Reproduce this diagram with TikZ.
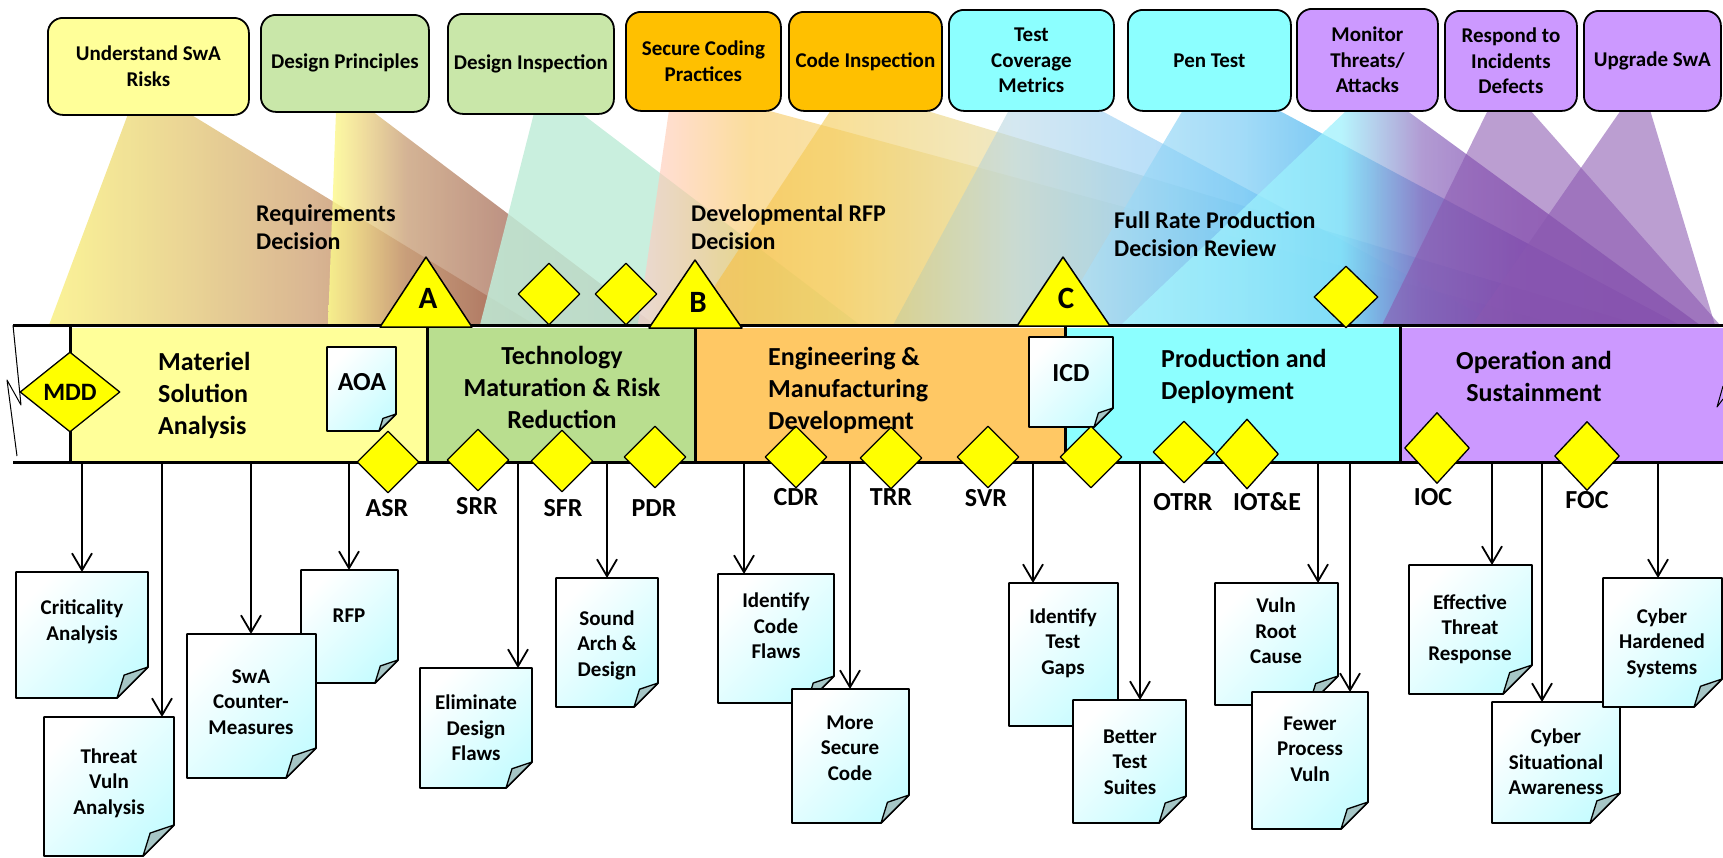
\documentclass[tikz,border=0pt]{standalone}
\usepackage{fontspec}
\setmainfont{Carlito}
\usetikzlibrary{arrows.meta,shapes.geometric}

% phase and box colours
\definecolor{msaY}{HTML}{FFFF99}
\definecolor{tmrrG}{HTML}{B9DE8F}
\definecolor{emdO}{HTML}{FFC864}
\definecolor{pdC}{HTML}{8CFFFF}
\definecolor{osP}{HTML}{CC99FF}
\definecolor{boxG}{HTML}{C9E7A9}
\definecolor{boxO}{HTML}{FFC000}
\definecolor{msY}{HTML}{FFFF00}
\definecolor{docC}{HTML}{C8FCFF}
\definecolor{flapC}{HTML}{A6C6C6}

% cone colours
\definecolor{uA}{HTML}{FAF28E}\definecolor{uB}{HTML}{EBD68C}\definecolor{uC}{HTML}{D6B08A}\definecolor{uD}{HTML}{BC8670}\definecolor{uE}{HTML}{9C4C3A}
\definecolor{pA}{HTML}{FFFF8C}\definecolor{pB}{HTML}{EED886}\definecolor{pC}{HTML}{C9A07A}\definecolor{pD}{HTML}{A87060}\definecolor{pE}{HTML}{985040}
\definecolor{iA}{HTML}{C0ECD8}
\definecolor{sA}{HTML}{FFCCCC}\definecolor{sB}{HTML}{FFC8A0}\definecolor{sC}{HTML}{F8C860}\definecolor{sD}{HTML}{F5D070}\definecolor{sE}{HTML}{EEE0A0}
\definecolor{sF}{HTML}{D0E0D8}\definecolor{sG}{HTML}{A8D4F4}\definecolor{sH}{HTML}{9080C8}\definecolor{sI}{HTML}{7840A8}
\definecolor{cA}{HTML}{F8BC40}\definecolor{cB}{HTML}{F4CC58}\definecolor{cC}{HTML}{EAD890}\definecolor{cD}{HTML}{C8D8C8}
\definecolor{cE}{HTML}{98CCF0}\definecolor{cF}{HTML}{6090D8}\definecolor{cG}{HTML}{7848B0}\definecolor{cH}{HTML}{7030A0}
\definecolor{tA}{HTML}{C8CC98}\definecolor{tB}{HTML}{B8D8E8}\definecolor{tC}{HTML}{90CCF4}\definecolor{tD}{HTML}{50B0F0}
\definecolor{nA}{HTML}{B8E4F8}\definecolor{nB}{HTML}{70C8F4}\definecolor{nC}{HTML}{20A0E8}\definecolor{nD}{HTML}{4070C8}\definecolor{nE}{HTML}{6040B0}\definecolor{nF}{HTML}{7030A0}
\definecolor{mA}{HTML}{A8F8FF}\definecolor{mB}{HTML}{98F0FC}\definecolor{mC}{HTML}{9070C0}\definecolor{mD}{HTML}{7838A8}\definecolor{mE}{HTML}{7030A0}
\definecolor{rA}{HTML}{8A58B0}

\pgfdeclarehorizontalshading{shUnd}{100bp}{color(0bp)=(uA); color(25bp)=(uA); color(37bp)=(uB); color(52bp)=(uC); color(63bp)=(uD); color(75bp)=(uE); color(100bp)=(uE)}
\pgfdeclarehorizontalshading{shDP}{100bp}{color(0bp)=(pA); color(25bp)=(pA); color(30bp)=(pB); color(37bp)=(pC); color(55bp)=(pD); color(75bp)=(pE); color(100bp)=(pE)}
\pgfdeclarehorizontalshading{shSC}{100bp}{color(0bp)=(sA); color(25bp)=(sA); color(27.5bp)=(sB); color(31bp)=(sC); color(36bp)=(sD); color(43bp)=(sE); color(52bp)=(sF); color(61bp)=(sG); color(69bp)=(sH); color(75bp)=(sI); color(100bp)=(sI)}
\pgfdeclarehorizontalshading{shCI}{100bp}{color(0bp)=(cA); color(25bp)=(cA); color(32.5bp)=(cB); color(40bp)=(cC); color(48bp)=(cD); color(57bp)=(cE); color(65bp)=(cF); color(70bp)=(cG); color(75bp)=(cH); color(100bp)=(cH)}
\pgfdeclarehorizontalshading{shTC}{100bp}{color(0bp)=(tA); color(25bp)=(tA); color(35bp)=(tB); color(45bp)=(tC); color(75bp)=(tD); color(100bp)=(tD)}
\pgfdeclarehorizontalshading{shPT}{100bp}{color(0bp)=(nA); color(25bp)=(nA); color(40bp)=(nB); color(50bp)=(nC); color(56bp)=(nD); color(62bp)=(nE); color(75bp)=(nF); color(100bp)=(nF)}
\pgfdeclarehorizontalshading{shMon}{100bp}{color(0bp)=(mA); color(25bp)=(mA); color(44bp)=(mB); color(51bp)=(mC); color(60bp)=(mD); color(75bp)=(mE); color(100bp)=(mE)}

% a page with a folded lower right corner: name, x1, y1, x2, y2, fold size
\newcommand\docpage[6]{%
  \shadedraw[pageshade] (#2,#3) -- (#4,#3) -- (#4,#5-#6) -- (#4-#6,#5) -- (#2,#5) -- cycle;
  \filldraw[flap] (#4,#5-#6) -- (#4-0.77*#6,#5-0.74*#6) -- (#4-#6,#5) -- cycle;
  \node[pagebox, minimum width={(#4-#2)*1pt}, minimum height={(#5-#3)*1pt}] (#1) at ({(#2+#4)/2},{(#3+#5)/2}) {};
}

\begin{document}
\begin{tikzpicture}[x=1pt,y=-1pt,line join=round,
  topbox/.style={draw=black, line width=1.8pt, rounded corners=15pt, align=center, inner sep=0pt, anchor=north west, font=\bfseries\fontsize{21}{25.5}\selectfont},
  phasetxt/.style={inner sep=0pt, font=\bfseries\fontsize{26}{32}\selectfont},
  dectxt/.style={inner sep=0pt, anchor=west, align=left, font=\bfseries\fontsize{24}{28.5}\selectfont},
  mslabel/.style={inner sep=0pt, font=\bfseries\fontsize{26}{30}\selectfont},
  msdia/.style={diamond, draw=black, fill=msY, line width=1.3pt, inner sep=0pt, minimum width=62pt, minimum height=62pt},
  mstri/.style={fill=msY, draw=black, line width=1.5pt},
  doctxt/.style={inner sep=0pt, align=center, font=\bfseries\fontsize{21}{25.5}\selectfont},
  pagebox/.style={draw=none, inner sep=0pt, outer sep=0pt},
  pageshade/.style={top color=white, bottom color=docC, shading angle=45, draw=black, line width=1.8pt},
  flap/.style={fill=flapC, draw=black, line width=1.3pt},
  arr/.style={line width=1.8pt, -{Straight Barb[length=17pt,width=20pt,line width=1.8pt]}},
  sepline/.style={line width=3pt},
]
\useasboundingbox (0,0) rectangle (1723,857);

% ---- activity cones projected onto the timeline
\shade[shading=shUnd, fill opacity=0.92] (128,114) -- (190,114) -- (535,325) -- (49,325) -- cycle;
\shade[shading=shDP, fill opacity=0.8] (336,111) -- (372,111) -- (655,325) -- (328,325) -- cycle;
\fill[iA, fill opacity=0.85] (534,113) -- (581,113) -- (860,325) -- (480,325) -- cycle;
\shade[shading=shSC, fill opacity=0.62] (669,110) -- (766,110) -- (1560,325) -- (638,325) -- cycle;
\shade[shading=shCI, fill opacity=0.62] (831,110) -- (924,110) -- (1640,325) -- (689,325) -- cycle;
\shade[shading=shTC, fill opacity=0.6] (1009,110) -- (1100,110) -- (1500,325) -- (893,325) -- cycle;
\shade[shading=shPT, fill opacity=0.65] (1183,110) -- (1278,110) -- (1680,325) -- (1055,325) -- cycle;
\shade[shading=shMon, fill opacity=0.7] (1347,110) -- (1406,110) -- (1700,325) -- (1121,325) -- cycle;
\fill[rA, fill opacity=0.58] (1488,110) -- (1530,110) -- (1720,325) -- (1382,325) -- cycle;
\fill[rA, fill opacity=0.58] (1621,110) -- (1650,110) -- (1715,325) -- (1472,325) -- cycle;

% ---- acquisition phases
\fill[msaY] (70,328) rectangle (427,461);
\fill[tmrrG] (427,328) rectangle (695,461);
\fill[emdO] (695,328) rectangle (1065,461);
\fill[pdC] (1065,328) rectangle (1400,461);
\fill[osP] (1400,328) rectangle (1723,461);
\draw[sepline] (70,325) -- (70,462);
\draw[sepline] (427,325) -- (427,462);
\draw[sepline] (695,325) -- (695,462);
\draw[sepline] (1065,325) -- (1065,462);
\draw[sepline] (1400,325) -- (1400,462);
\draw[line width=3pt] (13,325) -- (1723,325);
\draw[line width=3pt] (13,462) -- (1723,462);
% broken ends of the timeline
\draw[line width=1pt] (13,325) -- (21,405) -- (7,380) -- (17,456);
\draw[line width=1pt] (1723,386) -- (1717,407) -- (1723,399);

% ---- AOA and ICD pages on the timeline
\docpage{pAOA}{327}{347}{396}{431}{17}
\node[mslabel] (tAOA) at (362,382) {AOA};
\docpage{pICD}{1029}{337}{1113}{427}{19}
\node[mslabel] (tICD) at (1071,373) {ICD};

% ---- milestone decision points A, B, C
\draw[mstri] (380,327) -- (426,257) -- (472,327) -- cycle;
\node[inner sep=0pt, font=\bfseries\fontsize{31}{31}\selectfont] (msA) at (428,298) {A};
\draw[mstri] (649,328) -- (695,260) -- (742,328) -- cycle;
\node[inner sep=0pt, font=\bfseries\fontsize{31}{31}\selectfont] (msB) at (698,302) {B};
\draw[mstri] (1017,326) -- (1063,257) -- (1110,326) -- cycle;
\node[inner sep=0pt, font=\bfseries\fontsize{31}{31}\selectfont] (msC) at (1066,298) {C};

% ---- reviews and events
\node[msdia, minimum width=100pt, minimum height=80pt, font=\bfseries\fontsize{25}{25}\selectfont] (mdd) at (70,392) {MDD};
\node[msdia] (dTop1) at (549,294) {};
\node[msdia] (dTop2) at (626,294) {};
\node[msdia, minimum width=64pt] (dTop3) at (1346,297) {};
\node[msdia] (dASR) at (388,462) {};
\node[msdia] (dSRR) at (478,460) {};
\node[msdia] (dSFR) at (562,461) {};
\node[msdia] (dPDR) at (655,457) {};
\node[msdia] (dCDR) at (796,457) {};
\node[msdia] (dTRR) at (891,458) {};
\node[msdia] (dSVR) at (988,457) {};
\node[msdia] (dFRP) at (1091,457) {};
\node[msdia] (dOTRR) at (1184,452) {};
\node[msdia, minimum width=63pt, minimum height=70pt] (dIOTE) at (1247,454) {};
\node[msdia, minimum width=65pt, minimum height=71pt] (dIOC) at (1437,448) {};
\node[msdia, minimum width=65pt, minimum height=69pt] (dFOC) at (1587,456) {};

\node[mslabel] (lASR) at (387,508) {ASR};
\node[mslabel] (lSRR) at (477,506) {SRR};
\node[mslabel] (lSFR) at (563,508) {SFR};
\node[mslabel] (lPDR) at (654,508) {PDR};
\node[mslabel] (lCDR) at (796,497) {CDR};
\node[mslabel] (lTRR) at (891,497) {TRR};
\node[mslabel] (lSVR) at (986,498) {SVR};
\node[mslabel] (lOTRR) at (1183,502) {OTRR};
\node[mslabel] (lIOTE) at (1267,502) {IOT\&E};
\node[mslabel] (lIOC) at (1433,497) {IOC};
\node[mslabel] (lFOC) at (1587,500) {FOC};

% ---- phase names
\node[phasetxt, anchor=west, align=left] (nMSA) at (158,395) {Materiel\\Solution\\Analysis};
\node[phasetxt, align=center] (nTMRR) at (562,387) {Technology\\Maturation \& Risk\\Reduction};
\node[phasetxt, anchor=west, align=left] (nEMD) at (768,390) {Engineering \&\\Manufacturing\\Development};
\node[phasetxt, anchor=west, align=left] (nPD) at (1161,376) {Production and\\Deployment};
\node[phasetxt, align=center] (nOS) at (1534,376) {Operation and\\Sustainment};

% ---- decision reviews
\node[dectxt] (decA) at (256,227) {Requirements\\Decision};
\node[dectxt] (decB) at (691,227) {Developmental RFP\\Decision};
\node[dectxt] (decC) at (1114,234) {Full Rate Production\\Decision Review};

% ---- software assurance activities
\node[topbox, fill=msaY, minimum width=201pt, minimum height=97pt] (bUnd) at (47,17) {Understand SwA\\Risks};
\node[topbox, fill=boxG, minimum width=168pt, minimum height=97pt] (bDP) at (260,14) {Design Principles};
\node[topbox, fill=boxG, minimum width=166pt, minimum height=100pt] (bDI) at (447,13) {Design Inspection};
\node[topbox, fill=boxO, minimum width=155pt, minimum height=99pt] (bSCP) at (625,11) {Secure Coding\\Practices};
\node[topbox, fill=boxO, minimum width=153pt, minimum height=99pt] (bCI) at (788,11) {Code Inspection};
\node[topbox, fill=pdC, minimum width=165pt, minimum height=101pt] (bTCM) at (948,9) {Test\\Coverage\\Metrics};
\node[topbox, fill=pdC, minimum width=163pt, minimum height=101pt] (bPT) at (1127,9) {Pen Test};
\node[topbox, fill=osP, minimum width=141pt, minimum height=102pt] (bMon) at (1296,8) {Monitor\\Threats/\\Attacks};
\node[topbox, fill=osP, minimum width=132pt, minimum height=100pt] (bResp) at (1444,10) {Respond to\\Incidents\\Defects};
\node[topbox, fill=osP, minimum width=137pt, minimum height=100pt] (bUpg) at (1583,10) {Upgrade SwA};

% ---- products of each activity
\docpage{dCrit}{16}{572}{148}{698}{31}
\docpage{dThreat}{44}{717}{174}{856}{31}
\docpage{dRFP}{301}{570}{398}{683}{23}
\docpage{dSwA}{187}{634}{316}{778}{30}
\docpage{dElim}{420}{668}{532}{788}{26}
\docpage{dSound}{556}{578}{658}{707}{24}
\docpage{dICF}{718}{574}{834}{703}{27}
\docpage{dMSC}{792}{689}{909}{823}{28}
\docpage{dITG}{1009}{583}{1118}{726}{26}
\docpage{dBTS}{1073}{700}{1186}{823}{27}
\docpage{dVRC}{1215}{583}{1338}{705}{29}
\docpage{dFPV}{1252}{692}{1368}{829}{27}
\docpage{dETR}{1409}{565}{1532}{694}{29}
\docpage{dCSA}{1492}{702}{1620}{823}{30}
\docpage{dCHS}{1603}{578}{1722}{707}{28}

\node[doctxt] (tCrit) at (82,622) {Criticality\\Analysis};
\node[doctxt] (tThreat) at (109,783) {Threat\\Vuln\\Analysis};
\node[doctxt] (tRFP) at (349,616) {RFP};
\node[doctxt] (tSwA) at (251,702) {SwA\\Counter-\\Measures};
\node[doctxt] (tElim) at (476,728) {Eliminate\\Design\\Flaws};
\node[doctxt] (tSound) at (607,645) {Sound\\Arch \&\\Design};
\node[doctxt] (tICF) at (776,626) {Identify\\Code\\Flaws};
\node[doctxt] (tMSC) at (850,748) {More\\Secure\\Code};
\node[doctxt] (tITG) at (1063,643) {Identify\\Test\\Gaps};
\node[doctxt] (tBTS) at (1130,762) {Better\\Test\\Suites};
\node[doctxt] (tVRC) at (1276,631) {Vuln\\Root\\Cause};
\node[doctxt] (tFPV) at (1310,749) {Fewer\\Process\\Vuln};
\node[doctxt] (tETR) at (1470,629) {Effective\\Threat\\Response};
\node[doctxt] (tCSA) at (1556,762) {Cyber\\Situational\\Awareness};
\node[doctxt] (tCHS) at (1662,643) {Cyber\\Hardened\\Systems};

% ---- arrows from the timeline down to the pages
\foreach \x/\d in {82/dCrit, 162/dThreat, 251/dSwA, 349/dRFP, 518/dElim, 607/dSound,
                   744/dICF, 850/dMSC, 1033/dITG, 1140/dBTS, 1318/dVRC, 1350/dFPV,
                   1492/dETR, 1542/dCSA, 1658/dCHS}{
  \coordinate (s\d) at (\x,462);
  \draw[arr] (s\d) -- (s\d |- \d.north);
}
\end{tikzpicture}
\end{document}
